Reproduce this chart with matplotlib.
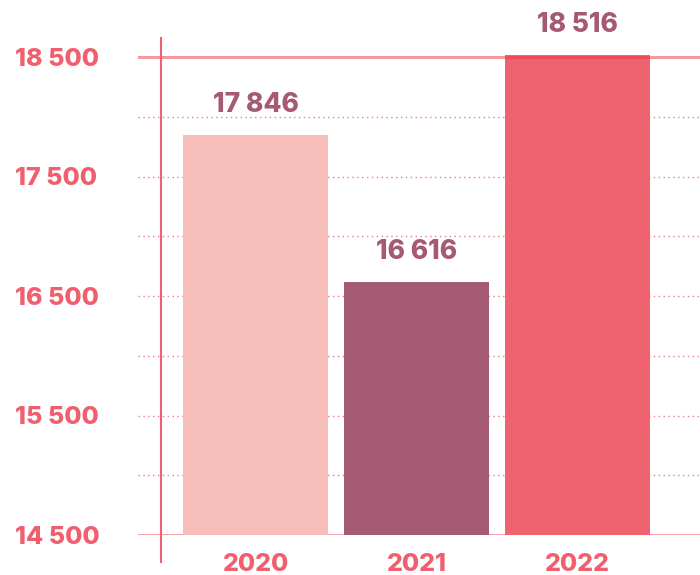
import matplotlib.pyplot as plt
import matplotlib.transforms as mtransforms

years = ['2020', '2021', '2022']
values = [17846, 16616, 18516]
bar_colors = ['#f7bdb9', '#a55a73', '#ef626f']
y_ticks = [14500, 15500, 16500, 17500, 18500]
y_tick_labels = ['14 500', '15 500', '16 500', '17 500', '18 500']
dotted_levels = [15000, 15500, 16000, 16500, 17000, 17500, 18000]

plt.rcParams['font.family'] = ['Inter', 'DejaVu Sans']

fig = plt.figure(figsize=(7, 5.75), dpi=100)
ax = fig.add_axes([138 / 700, 40 / 575, 562 / 700, 525.8 / 575])

x = list(range(len(years)))
ax.bar(x, values, width=0.9, color=bar_colors, zorder=2)

for xi, v in zip(x, values):
    ax.annotate(f'{v:,}'.replace(',', ' '), (xi, v), xytext=(0, 21.5),
                textcoords='offset points', ha='center', va='center',
                fontsize=19, fontweight='heavy', color='#a55a73')

# grid
for lv in dotted_levels:
    ax.axhline(lv, color='#f07b88', lw=1, ls=(0, (1, 2.5)), zorder=1)
ax.axhline(18500, color='#ee3344', alpha=0.5, lw=2.2, zorder=3)
ax.axhline(14500, color='#f29099', lw=1.2, zorder=1)

# vertical axis line poking out above and below
trans = mtransforms.blended_transform_factory(ax.transData, fig.transFigure)
ax.plot([-0.587, -0.587], [1 - 38 / 575, 1 - 562 / 575], transform=trans,
        color='#ef6070', lw=1.5, clip_on=False, zorder=4)

ax.set_xlim(-0.73, 2.76)
ax.set_ylim(14500, 18900)

ax.set_xticks(x)
ax.set_xticklabels(years, fontsize=18, fontweight='heavy', color='#ef5f6e')
ax.tick_params(axis='x', length=0, pad=13)

ax.set_yticks(y_ticks)
ax.set_yticklabels(y_tick_labels, fontsize=18, fontweight='heavy', color='#ef5f6e',
                   ha='left')
ax.tick_params(axis='y', length=0, pad=88.5)

for s in ax.spines.values():
    s.set_visible(False)

fig.savefig('out.png', dpi=100)
